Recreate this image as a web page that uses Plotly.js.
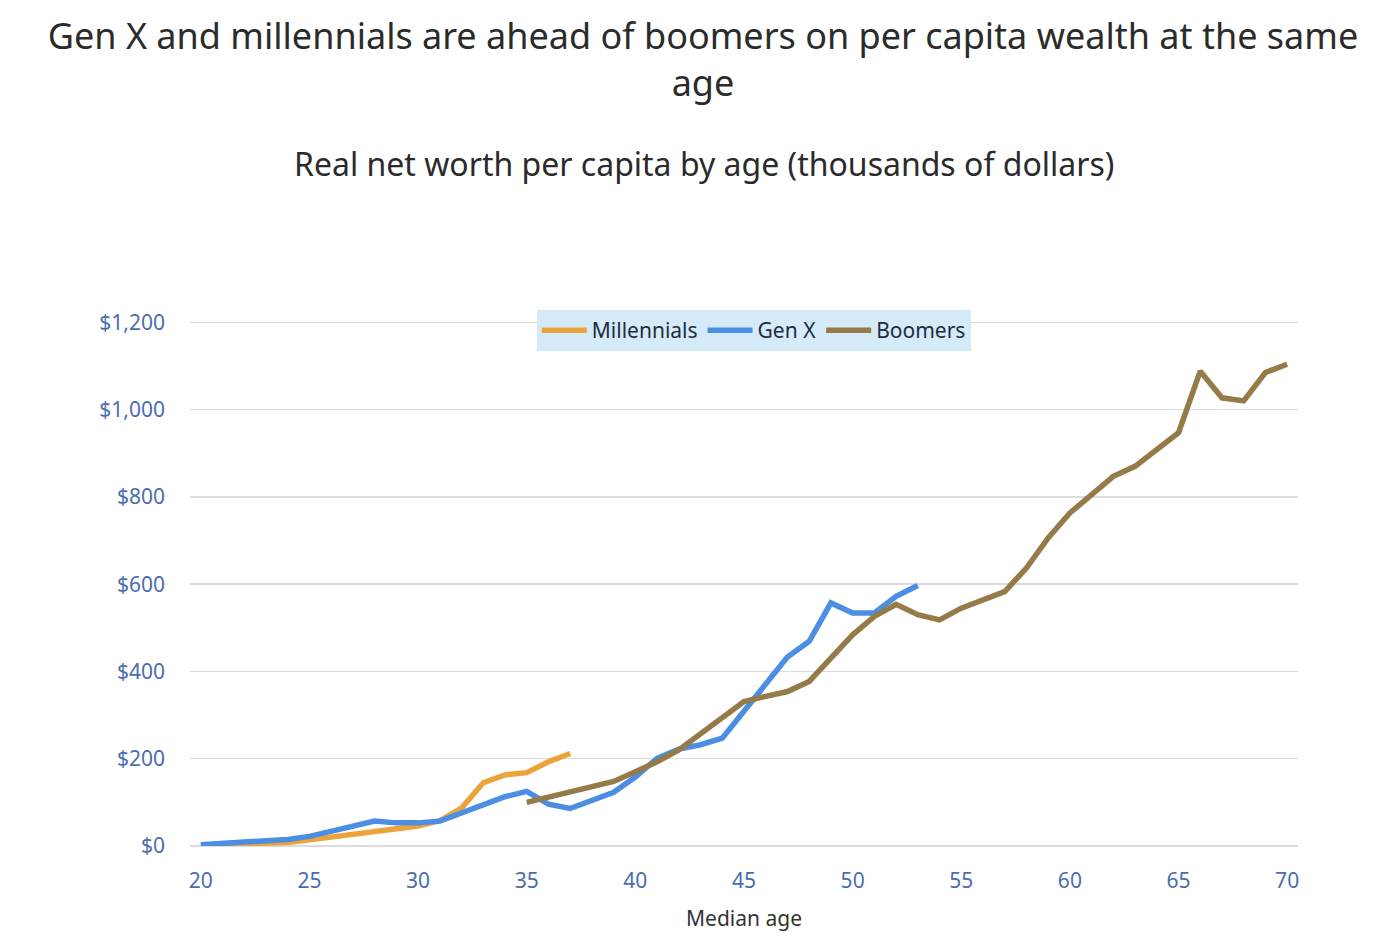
<!DOCTYPE html>
<html>
<head>
<meta charset="utf-8">
<script src="https://cdn.plot.ly/plotly-3.0.1.min.js"></script>
<style>html,body{margin:0;padding:0;background:#fff}#chart{width:1380px;height:950px}</style>
</head>
<body>
<div id="chart"></div>
<script>
const millennialsAge = [20,21,22,23,24,25,26,27,28,29,30,31,32,33,34,35,36,37];
const millennialsValue = [2,3,5,6,8,14,20,26,32,38,46,58,87,145,163,168,193,212];

const genXAge = [20,21,22,23,24,25,26,27,28,29,30,31,32,33,34,35,36,37,38,39,40,41,42,43,44,45,46,47,48,49,50,51,52,53];
const genXValue = [3,6,8,11,15,22,34,47,57,53,53,57,75,95,113,125,96,86,104,123,158,201,222,232,247,308,369,433,469,557,534,534,572,597];

const boomersAge = [35,36,37,38,39,40,41,42,43,44,45,46,47,48,49,50,51,52,53,54,55,56,57,58,59,60,61,62,63,64,65,66,67,68,69,70];
const boomersValue = [100,112,121,134,148,170,193,220,258,293,331,343,354,377,431,484,526,554,530,518,545,564,583,637,706,763,805,847,870,909,947,1088,1027,1020,1085,1104];

const yTickVals = [0,200,400,600,800,1000,1200];
const yTickText = ['$0','$200','$400','$600','$800','$1,000','$1,200'];
const xTickVals = [20,25,30,35,40,45,50,55,60,65,70];

const traces = [
  {x: millennialsAge, y: millennialsValue, name: 'Millennials', type: 'scatter', mode: 'lines',
   line: {color: '#EBA43A', width: 5.5}},
  {x: genXAge, y: genXValue, name: 'Gen X', type: 'scatter', mode: 'lines',
   line: {color: '#4B8EE3', width: 5.5}},
  {x: boomersAge, y: boomersValue, name: 'Boomers', type: 'scatter', mode: 'lines',
   line: {color: '#957B47', width: 5.5}}
];

const layout = {
  width: 1380, height: 950,
  paper_bgcolor: '#fff', plot_bgcolor: '#fff',
  font: {family: '"Noto Sans", "Open Sans", sans-serif', color: '#333'},
  margin: {l: 190, r: 82, t: 321, b: 104},
  title: {
    text: 'Gen X and millennials are ahead of boomers on per capita wealth at the same<br>age',
    font: {size: 36, color: '#2b2b2b', family: '"Noto Sans", sans-serif'},
    x: 0.463, xanchor: 'center', xref: 'paper', y: 0.948, yanchor: 'middle', yref: 'container'
  },
  annotations: [{
    text: 'Real net worth per capita by age (thousands of dollars)',
    xref: 'paper', yref: 'paper', x: 0.464, y: 1.30, xanchor: 'center', yanchor: 'middle',
    showarrow: false, font: {size: 32, color: '#2b2b2b'}
  }],
  xaxis: {
    range: [19.5, 70.5], tickvals: xTickVals, showgrid: false, zeroline: false,
    showline: false, ticks: '', ticklabelstandoff: 20,
    tickfont: {size: 21, color: '#4a6db0'},
    title: {text: 'Median age', font: {size: 21, color: '#333'}, standoff: 18},
    fixedrange: true
  },
  yaxis: {
    range: [0, 1203], tickvals: yTickVals, ticktext: yTickText,
    showgrid: true, gridcolor: '#dcdcdc', gridwidth: 1.5, zeroline: true, zerolinecolor: '#dcdcdc', zerolinewidth: 1.5,
    showline: false, ticks: '', ticklabelstandoff: 24,
    tickfont: {size: 21, color: '#4a6db0'}, fixedrange: true
  },
  legend: {
    orientation: 'h', x: 0.313, xanchor: 'left', y: 1.021, yanchor: 'top',
    bgcolor: '#d5ebfa', font: {size: 21, color: '#1f2d3d'},
    itemwidth: 45, tracegroupgap: 0
  },
  showlegend: true
};

Plotly.newPlot('chart', traces, layout, {displayModeBar: false, staticPlot: true});
</script>
</body>
</html>
